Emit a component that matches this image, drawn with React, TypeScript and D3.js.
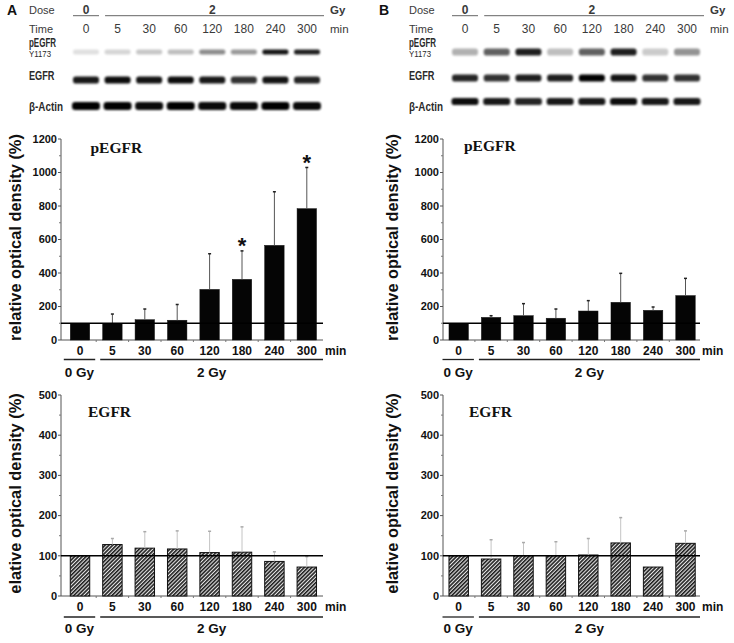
import React from 'react';
import * as d3 from 'd3';

// ---------- data ----------
const timeLabels = ['0', '5', '30', '60', '120', '180', '240', '300'];
const groupLabels = ['0 Gy', '2 Gy'];
const topTicks = [0, 200, 400, 600, 800, 1000, 1200];
const bottomTicks = [0, 100, 200, 300, 400, 500];

// Panel A
const pegfrA = [100, 100, 121, 118, 302, 362, 565, 784];
const pegfrAErr = [100, 155, 185, 212, 515, 532, 885, 1030];
const egfrA = [100, 128, 119, 117, 108, 109, 86, 72];
const egfrAErr = [100, 143, 160, 162, 161, 172, 110, 98];
const starsA = ['180', '300'];

// Panel B
const pegfrB = [100, 135, 145, 130, 173, 225, 177, 265];
const pegfrBErr = [100, 145, 217, 185, 235, 398, 197, 368];
const egfrB = [100, 92, 100, 100, 102, 132, 72, 131];
const egfrBErr = [100, 140, 133, 135, 143, 195, 72, 162];
const starsB: string[] = [];

// Blot band darkness (0..1)
const blotA_pEGFR = [0.12, 0.16, 0.22, 0.25, 0.45, 0.4, 0.92, 0.88];
const blotA_EGFR = [0.9, 0.95, 0.92, 0.95, 0.9, 0.8, 0.92, 0.86];
const blotA_Actin = [1, 1, 0.96, 1, 0.96, 0.96, 1, 0.96];
const blotB_pEGFR = [0.3, 0.62, 0.88, 0.25, 0.62, 0.88, 0.2, 0.42];
const blotB_EGFR = [0.85, 0.8, 0.88, 0.88, 1, 0.92, 0.8, 0.8];
const blotB_Actin = [0.95, 0.9, 0.85, 0.9, 0.9, 0.95, 0.9, 0.9];

const SANS = '"Liberation Sans", Arial, Helvetica, sans-serif';
const SERIF = '"Liberation Serif", "Times New Roman", serif';
const STEP = 32.4;

type PanelProps = {
  id: string;
  axisX: number;
  xStart: number;
  xEnd: number;
  yBottom: number;
  yTop: number;
  max: number;
  ticks: number[];
  minorStep: number;
  values: number[];
  errs: number[];
  hatched: boolean;
  title: string;
  titleX: number;
  titleY: number;
  yLabel: string;
  yLabelX: number;
  stars: string[];
  labelY: number;
  groupLineY: number;
  groupTextY: number;
};

function BarPanel(p: PanelProps) {
  const x = d3
    .scaleBand<string>()
    .domain(timeLabels)
    .range([p.xStart, p.xStart + 8 * STEP])
    .paddingInner(0.4)
    .paddingOuter(0.2);
  const y = d3.scaleLinear().domain([0, p.max]).range([p.yBottom, p.yTop]);
  const minor = d3.range(0, p.max + 0.1, p.minorStep).filter((v) => !p.ticks.includes(v));
  const bw = x.bandwidth();
  const g0 = [p.xStart, p.xStart + x.step() - 1];
  const g1 = [p.xStart + x.step() + 4, p.xEnd];
  const groups = [g0, g1];
  const yMid = (p.yTop + p.yBottom) / 2 - 2;
  const errColor = p.hatched ? '#c4c4c4' : '#555';
  const capColor = p.hatched ? '#aaa' : '#222';
  return (
    <g>
      <line x1={p.axisX} x2={p.axisX} y1={p.yBottom} y2={p.yTop} stroke="#555" strokeWidth={1} />
      {p.ticks.map((t) => (
        <g key={'t' + t}>
          <line x1={p.axisX - 3} x2={p.axisX} y1={y(t)} y2={y(t)} stroke="#555" />
          <text
            x={p.axisX - 4}
            y={y(t)}
            dy="0.35em"
            textAnchor="end"
            fontFamily={SANS}
            fontWeight="bold"
            fontSize={11}
            fill="#111"
          >
            {t}
          </text>
        </g>
      ))}
      {minor.map((t) => (
        <line key={'m' + t} x1={p.axisX - 2} x2={p.axisX} y1={y(t)} y2={y(t)} stroke="#777" />
      ))}
      <line x1={p.axisX} x2={p.xEnd} y1={p.yBottom} y2={p.yBottom} stroke="#555" strokeWidth={1} />
      {timeLabels.slice(1).map((t) => (
        <line
          key={'xt' + t}
          x1={(x(t) as number) - (x.step() - bw) / 2}
          x2={(x(t) as number) - (x.step() - bw) / 2}
          y1={p.yBottom}
          y2={p.yBottom + 2}
          stroke="#777"
        />
      ))}
      {timeLabels.map((t, i) => (
        <rect
          key={'b' + t}
          x={x(t)}
          y={y(p.values[i])}
          width={bw}
          height={p.yBottom - y(p.values[i])}
          fill={p.hatched ? `url(#hatch-${p.id})` : '#050505'}
          stroke="#111"
          strokeWidth={p.hatched ? 1 : 0.5}
        />
      ))}
      {timeLabels.map((t, i) => {
        if (p.errs[i] <= p.values[i]) return null;
        const cx = (x(t) as number) + bw / 2;
        return (
          <g key={'e' + t}>
            <line x1={cx} x2={cx} y1={y(p.values[i])} y2={y(p.errs[i])} stroke={errColor} strokeWidth={1} />
            <line x1={cx - 1.5} x2={cx + 1.5} y1={y(p.errs[i])} y2={y(p.errs[i])} stroke={capColor} strokeWidth={1.5} />
          </g>
        );
      })}
      <line x1={p.axisX} x2={p.xEnd} y1={y(100)} y2={y(100)} stroke="#000" strokeWidth={1.5} />
      {p.stars.map((s) => {
        const i = timeLabels.indexOf(s);
        const cx = (x(s) as number) + bw / 2;
        return (
          <text
            key={'s' + s}
            x={cx}
            y={y(p.errs[i]) - 10 + 12.5}
            textAnchor="middle"
            fontFamily={SANS}
            fontWeight="bold"
            fontSize={22}
            fill="#111"
          >
            *
          </text>
        );
      })}
      {timeLabels.map((t) => (
        <text
          key={'xl' + t}
          x={(x(t) as number) + bw / 2}
          y={p.labelY}
          dy="0.35em"
          textAnchor="middle"
          fontFamily={SANS}
          fontWeight="bold"
          fontSize={12}
          fill="#111"
        >
          {t}
        </text>
      ))}
      <text x={p.xEnd + 2} y={p.labelY} dy="0.35em" fontFamily={SANS} fontWeight="bold" fontSize={12} fill="#111">
        min
      </text>
      {groups.map((g, i) => (
        <g key={'g' + i}>
          <line x1={g[0]} x2={g[1]} y1={p.groupLineY} y2={p.groupLineY} stroke="#222" strokeWidth={1.3} />
          <text
            x={(g[0] + g[1]) / 2}
            y={p.groupTextY}
            dy="0.35em"
            textAnchor="middle"
            fontFamily={SANS}
            fontWeight="bold"
            fontSize={13.5}
            fill="#111"
          >
            {groupLabels[i]}
          </text>
        </g>
      ))}
      <text x={p.titleX} y={p.titleY} dy="0.35em" fontFamily={SERIF} fontWeight="bold" fontSize={15.5} fill="#111">
        {p.title}
      </text>
      <text
        transform={`translate(${p.yLabelX},${yMid}) rotate(-90)`}
        dy="0.35em"
        textAnchor="middle"
        fontFamily={SANS}
        fontWeight="bold"
        fontSize={16.4}
        fill="#111"
      >
        {p.yLabel}
      </text>
    </g>
  );
}

type BlotRow = { label: string; sub?: string; labelY: number; bandY: number; h: number; w: number; dens: number[]; lw: number };

function Blot(props: {
  letter: string;
  letterX: number;
  labelX: number;
  laneRange: [number, number];
  unitX: number;
  rows: BlotRow[];
}) {
  const lane = d3.scalePoint<string>().domain(timeLabels).range(props.laneRange);
  const l0 = lane('0') as number;
  const l1 = lane('5') as number;
  const l7 = lane('300') as number;
  const grey = '#3a3a3a';
  return (
    <g>
      <text x={props.letterX} y={10} dy="0.35em" fontFamily={SANS} fontWeight="bold" fontSize={14} fill="#111">
        {props.letter}
      </text>
      <text x={props.labelX} y={10} dy="0.35em" fontFamily={SANS} fontSize={11} fill={grey}>
        Dose
      </text>
      <text x={l0} y={9.5} dy="0.35em" textAnchor="middle" fontFamily={SANS} fontWeight="bold" fontSize={12} fill={grey}>
        0
      </text>
      <line x1={l0 - 13} x2={l0 + 13} y1={15.7} y2={15.7} stroke="#666" strokeWidth={1} />
      <text
        x={(l1 + l7) / 2}
        y={9.5}
        dy="0.35em"
        textAnchor="middle"
        fontFamily={SANS}
        fontWeight="bold"
        fontSize={12}
        fill={grey}
      >
        2
      </text>
      <line x1={l1 - 12.5} x2={l7 + 17} y1={15.7} y2={15.7} stroke="#666" strokeWidth={1} />
      <text x={props.unitX} y={10} dy="0.35em" fontFamily={SANS} fontWeight="bold" fontSize={11.5} fill={grey}>
        Gy
      </text>
      <text x={props.labelX} y={29} dy="0.35em" fontFamily={SANS} fontSize={11} fill={grey}>
        Time
      </text>
      {timeLabels.map((t) => (
        <text
          key={'tl' + t}
          x={lane(t)}
          y={29}
          dy="0.35em"
          textAnchor="middle"
          fontFamily={SANS}
          fontSize={12}
          fill={grey}
        >
          {t}
        </text>
      ))}
      <text x={props.unitX} y={29} dy="0.35em" fontFamily={SANS} fontSize={11.5} fill={grey}>
        min
      </text>
      {props.rows.map((r) => (
        <g key={r.label}>
          <text
            x={props.labelX}
            y={r.labelY}
            dy="0.35em"
            fontFamily={SANS}
            fontWeight="bold"
            fontSize={12}
            textLength={r.lw}
            lengthAdjust="spacingAndGlyphs"
            fill="#2a2a2a"
          >
            {r.label}
          </text>
          {r.sub ? (
            <text
              x={props.labelX}
              y={r.labelY + 11}
              dy="0.35em"
              fontFamily={SANS}
              fontSize={9}
              textLength={22}
              lengthAdjust="spacingAndGlyphs"
              fill="#2a2a2a"
            >
              {r.sub}
            </text>
          ) : null}
          {timeLabels.map((t, i) => (
            <rect
              key={r.label + t}
              x={(lane(t) as number) - r.w / 2}
              y={r.bandY - r.h / 2}
              width={r.w}
              height={r.h}
              rx={r.h / 2.5}
              fill="#000"
              opacity={r.dens[i]}
              filter="url(#blotblur)"
            />
          ))}
        </g>
      ))}
    </g>
  );
}

export default function App() {
  const common = { stars: [] as string[] };
  return (
    <svg
      width={734}
      height={643}
      viewBox="0 0 734 643"
      style={{ position: 'absolute', left: 0, top: 0, background: '#fff' }}
    >
      <defs>
        <filter id="blotblur" x="-30%" y="-100%" width="160%" height="300%">
          <feGaussianBlur stdDeviation="1.3" />
        </filter>
        {['A', 'B'].map((id) => (
          <pattern
            key={id}
            id={`hatch-${id}`}
            patternUnits="userSpaceOnUse"
            width={2.7}
            height={2.7}
            patternTransform="rotate(45)"
          >
            <rect width={2.7} height={2.7} fill="#e8e8e8" />
            <line x1={0.8} x2={0.8} y1={0} y2={2.7} stroke="#1e1e1e" strokeWidth={1.6} />
          </pattern>
        ))}
      </defs>
      <rect width={734} height={643} fill="#fff" />

      <Blot
        letter="A"
        letterX={7}
        labelX={29}
        laneRange={[86, 307]}
        unitX={330}
        rows={[
          { label: 'pEGFR', sub: 'Y1173', labelY: 43, bandY: 52, h: 5, w: 26, dens: blotA_pEGFR, lw: 27 },
          { label: 'EGFR', labelY: 76, bandY: 80, h: 7, w: 26, dens: blotA_EGFR, lw: 25.5 },
          { label: 'β-Actin', labelY: 107, bandY: 106, h: 8, w: 28, dens: blotA_Actin, lw: 34 },
        ]}
      />
      <Blot
        letter="B"
        letterX={379}
        labelX={409}
        laneRange={[465, 687]}
        unitX={710}
        rows={[
          { label: 'pEGFR', sub: 'Y1173', labelY: 43, bandY: 52, h: 7, w: 26, dens: blotB_pEGFR, lw: 27 },
          { label: 'EGFR', labelY: 76, bandY: 78, h: 7, w: 26, dens: blotB_EGFR, lw: 25.5 },
          { label: 'β-Actin', labelY: 107, bandY: 101.5, h: 7, w: 27, dens: blotB_Actin, lw: 34 },
        ]}
      />

      <BarPanel
        id="A"
        axisX={61}
        xStart={63.8}
        xEnd={323}
        yBottom={340}
        yTop={139}
        max={1200}
        ticks={topTicks}
        minorStep={100}
        values={pegfrA}
        errs={pegfrAErr}
        hatched={false}
        title="pEGFR"
        titleX={90.5}
        titleY={148}
        yLabel="relative optical density (%)"
        yLabelX={15}
        stars={starsA}
        labelY={350.5}
        groupLineY={359.5}
        groupTextY={372}
      />
      <BarPanel
        id="B"
        axisX={443}
        xStart={442.5}
        xEnd={700}
        yBottom={340}
        yTop={139}
        max={1200}
        ticks={topTicks}
        minorStep={100}
        values={pegfrB}
        errs={pegfrBErr}
        hatched={false}
        title="pEGFR"
        titleX={464}
        titleY={146}
        yLabel="relative optical density (%)"
        yLabelX={392}
        stars={starsB}
        labelY={350.5}
        groupLineY={359.5}
        groupTextY={372}
      />
      <BarPanel
        id="A"
        axisX={61}
        xStart={63.8}
        xEnd={323}
        yBottom={596}
        yTop={395}
        max={500}
        ticks={bottomTicks}
        minorStep={50}
        values={egfrA}
        errs={egfrAErr}
        hatched={true}
        title="EGFR"
        titleX={88}
        titleY={412}
        yLabel="elative optical density (%)"
        yLabelX={15}
        {...common}
        labelY={606.7}
        groupLineY={617}
        groupTextY={628}
      />
      <BarPanel
        id="B"
        axisX={443}
        xStart={442.5}
        xEnd={700}
        yBottom={596}
        yTop={395}
        max={500}
        ticks={bottomTicks}
        minorStep={50}
        values={egfrB}
        errs={egfrBErr}
        hatched={true}
        title="EGFR"
        titleX={469}
        titleY={412}
        yLabel="elative optical density (%)"
        yLabelX={392}
        {...common}
        labelY={606.7}
        groupLineY={617}
        groupTextY={628}
      />
    </svg>
  );
}
